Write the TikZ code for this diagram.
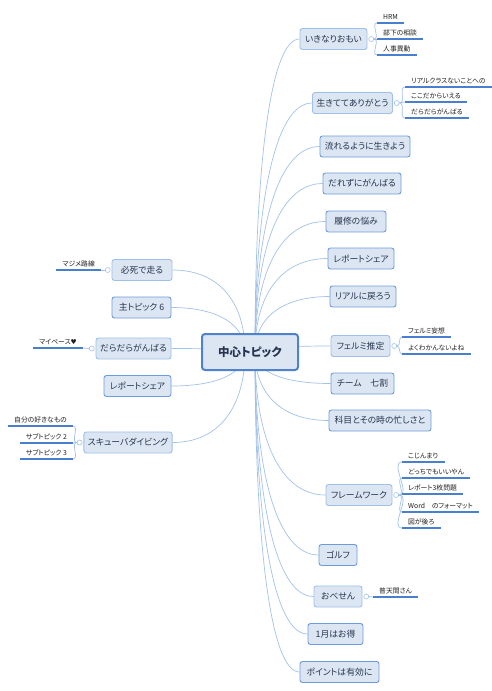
\documentclass[tikz,border=0pt]{standalone}
\usepackage{fontspec}
\setmainfont{Noto Sans CJK JP}[RawFeature=+palt]
\newfontfamily\symfont{DejaVu Sans}
\usetikzlibrary{positioning,calc,backgrounds}
\definecolor{topicfill}{HTML}{DCE6F2}
\definecolor{topicline}{HTML}{6E9BDA}
\definecolor{parentline}{HTML}{9FC0E8}
\definecolor{centerline}{HTML}{4F82CC}
\definecolor{branchline}{HTML}{A3C2EA}
\definecolor{underblue}{HTML}{4A7FD0}
\definecolor{topictext}{HTML}{26344F}
\definecolor{leaftext}{HTML}{202020}

\begin{document}
\begin{tikzpicture}[x=1pt,y=-1pt]
  \tikzstyle{topic}=[draw=topicline,fill=topicfill,rounded corners=2.5pt,line width=0.9pt,minimum height=21pt,inner xsep=4pt,text=topictext,font=\fontsize{8.8}{10}\selectfont]
  \tikzstyle{parent}=[topic,draw=parentline]
  \tikzstyle{hub}=[draw=centerline,fill=topicfill,rounded corners=3pt,line width=2pt,minimum width=96pt,minimum height=36pt,text=topictext,font=\fontsize{11.5}{13}\selectfont\bfseries]
  \tikzstyle{knob}=[circle,draw=branchline,fill=white,inner sep=0pt,minimum size=5pt,line width=0.6pt]
  \tikzstyle{leaf}=[inner xsep=0pt,inner ysep=3pt,font=\fontsize{6.8}{8}\selectfont,text=leaftext]
  \tikzstyle{branch}=[draw=branchline,line width=0.7pt]
  \tikzstyle{underline}=[draw=underblue,line width=1.1pt]

  \useasboundingbox (0,0) rectangle (492,691);

  % central topic
  \node[hub] (hub) at (250,352) {中心トピック};
  \coordinate (cr) at (255,352);
  \coordinate (cl) at (245,352);

  % right side
  \node[parent,minimum width=67pt] (t1) at (333.5,39) {いきなりおもい};
  \node[parent,minimum width=79pt] (t2) at (352.5,103) {生きててありがとう};
  \node[topic,minimum width=90pt] (t3) at (365,146.5) {流れるように生きよう};
  \node[topic,minimum width=78pt] (t4) at (362,183.5) {だれずにがんばる};
  \node[topic,minimum width=60pt] (t5) at (356,221.5) {履修の悩み};
  \node[topic,minimum width=66pt] (t6) at (361,258.5) {レポートシェア};
  \node[topic,minimum width=66pt] (t7) at (363,296.5) {リアルに戻ろう};
  \node[parent,minimum width=59pt] (t8) at (360.5,346) {フェルミ推定};
  \node[topic,minimum width=63pt] (t9) at (362.5,383.5) {チーム　七割};
  \node[topic,minimum width=102pt] (t10) at (380,420.5) {科目とその時の忙しさと};
  \node[parent,minimum width=66pt] (t11) at (359,495) {フレームワーク};
  \node[topic,minimum width=38pt] (t12) at (338,555) {ゴルフ};
  \node[parent,minimum width=48pt] (t13) at (338,596.5) {おべせん};
  \node[topic,minimum width=55pt] (t14) at (335.5,634) {1月はお得};
  \node[topic,minimum width=79pt] (t15) at (339.5,672) {ポイントは有効に};

  % left side
  \node[parent,minimum width=60pt] (l1) at (142,270) {必死で走る};
  \node[topic,minimum width=59pt] (l2) at (141.5,307.5) {主トピック 6};
  \node[parent,minimum width=75pt] (l3) at (133.5,348.5) {だらだらがんばる};
  \node[topic,minimum width=67pt] (l4) at (137.5,386) {レポートシェア};
  \node[parent,minimum width=88pt] (l5) at (128,442.5) {スキューバダイビング};

  % knobs
  \node[knob,right=1pt of t1] (k1) {};
  \node[knob,right=1pt of t2] (k2) {};
  \node[knob,right=1pt of t8] (k8) {};
  \node[knob,right=1pt of t11] (k11) {};
  \node[knob,right=1pt of t13] (k13) {};
  \node[knob,left=1pt of l1] (m1) {};
  \node[knob,left=1pt of l3] (m3) {};
  \node[knob,left=1pt of l5] (m5) {};

  % subtopics
  \node[leaf,anchor=south west] (a1) at (383,23) {HRM};
  \node[leaf,anchor=south west] (a2) at (383,39) {部下の相談};
  \node[leaf,anchor=south west] (a3) at (383,55) {人事異動};
  \node[leaf,anchor=south west] (b1) at (411,87) {リアルクラスないことへの};
  \node[leaf,anchor=south west] (b2) at (411,102) {ここだからいえる};
  \node[leaf,anchor=south west] (b3) at (411,118) {だらだらがんばる};
  \node[leaf,anchor=south west] (c1) at (408,337) {フェルミ妄想};
  \node[leaf,anchor=south west] (c2) at (408,354) {よくわかんないよね};
  \node[leaf,anchor=south west] (d1) at (408,462) {こじんまり};
  \node[leaf,anchor=south west] (d2) at (408,478) {どっちでもいいやん};
  \node[leaf,anchor=south west] (d3) at (408,494) {レポート3枚問題};
  \node[leaf,anchor=south west] (d4) at (408,512) {Word　のフォーマット};
  \node[leaf,anchor=south west] (d5) at (408,528) {図が後ろ};
  \node[leaf,anchor=south west] (e1) at (379,597) {普天間さん};
  \node[leaf,anchor=south east] (f1) at (95,270) {マジメ路線};
  \node[leaf,anchor=south east] (g1) at (77,348) {マイペース{\symfont ♥}};
  \node[leaf,anchor=south east] (h1) at (67,426) {自分の好きなもの};
  \node[leaf,anchor=south east] (h2) at (67,443) {サブトピック 2};
  \node[leaf,anchor=south east] (h3) at (67,459) {サブトピック 3};

  \begin{pgfonlayer}{background}
    \fill[white] (0,0) rectangle (492,691);
    \foreach \i in {1,...,15}
      \draw[branch] (cr) .. controls ($(cr)!0.6!(cr |- t\i.west)$) and ($(cr |- t\i.west)!0.35!(t\i.west)$) .. (t\i.west);
    \foreach \i in {1,...,5}
      \draw[branch] (cl) .. controls ($(cl)!0.6!(cl |- l\i.east)$) and ($(cl |- l\i.east)!0.35!(l\i.east)$) .. (l\i.east);
  \end{pgfonlayer}

  % brackets and underlines
  \foreach \k/\n in {k1/a1,k1/a2,k1/a3,k2/b1,k2/b2,k2/b3,k8/c1,k8/c2,k11/d1,k11/d2,k11/d3,k11/d4,k11/d5,k13/e1}{
    \draw[branch] (\k.east) to[out=0,in=180] ([xshift=-6pt]\n.south west);
    \draw[underline] ([xshift=-6pt]\n.south west) -- ([xshift=6pt]\n.south east);
  }
  \foreach \k/\n in {m1/f1,m3/g1,m5/h1,m5/h2,m5/h3}{
    \draw[branch] (\k.west) to[out=180,in=0] ([xshift=6pt]\n.south east);
    \draw[underline] ([xshift=-6pt]\n.south west) -- ([xshift=6pt]\n.south east);
  }
\end{tikzpicture}
\end{document}
